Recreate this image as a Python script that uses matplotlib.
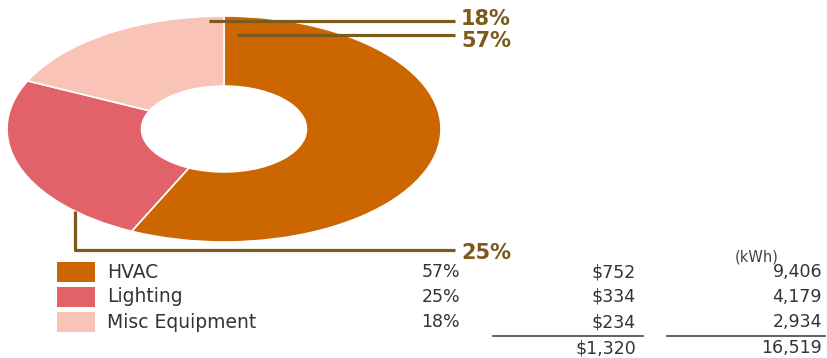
import matplotlib.pyplot as plt
from matplotlib.patches import Rectangle

categories = ["HVAC", "Lighting", "Misc Equipment"]
shares = [57, 25, 18]
costs = ["$752", "$334", "$234"]
usage = ["9,406", "4,179", "2,934"]
total_cost = "$1,320"
total_usage = "16,519"
colors = ["#cc6600", "#e2626a", "#f9c3b7"]
leader = "#7b5a1c"

W, H = 827, 358
fig = plt.figure(figsize=(W / 100, H / 100), dpi=100)
plt.rcParams["font.family"] = ["DejaVu Sans"]

# donut, stretched to fill its box
pie_ax = fig.add_axes([7 / W, 1 - 242 / H, 434 / W, 226 / H])
pie_ax.pie(shares, colors=colors, startangle=90, counterclock=False, radius=1,
           wedgeprops=dict(width=0.62, edgecolor="white", linewidth=1.2))
pie_ax.set_aspect("auto")
pie_ax.set_xlim(-1, 1)
pie_ax.set_ylim(-1, 1)
pie_ax.axis("off")

# overlay in pixel coordinates for leaders and table
ax = fig.add_axes([0, 0, 1, 1])
ax.set_xlim(0, W)
ax.set_ylim(H, 0)
ax.patch.set_alpha(0)
ax.axis("off")

lw = 2.3
ax.plot([209, 455], [21, 21], color=leader, lw=lw, solid_capstyle="butt")
ax.plot([237, 455], [35, 35], color=leader, lw=lw, solid_capstyle="butt")
ax.plot([75, 75, 455], [211, 250, 250], color=leader, lw=lw, solid_capstyle="butt")
lab = dict(color=leader, fontsize=15, fontweight="bold", va="center", ha="left")
ax.text(461, 19, f"{shares[2]}%", **lab)
ax.text(461, 41, f"{shares[0]}%", **lab)
ax.text(461, 253, f"{shares[1]}%", **lab)

txt = "#333333"
num = dict(color=txt, fontsize=12.5, va="center", ha="right")
ax.text(757, 257, "(kWh)", color="#444444", fontsize=10.5, ha="center", va="center")
rows = [272, 297, 322]
for i, y in enumerate(rows):
    ax.add_patch(Rectangle((57, y - 10), 38, 20, facecolor=colors[i], edgecolor="none"))
    ax.text(107, y, categories[i], color=txt, fontsize=13.5, va="center", ha="left")
    ax.text(460, y, f"{shares[i]}%", **num)
    ax.text(636, y, costs[i], **num)
    ax.text(822, y, usage[i], **num)

ax.plot([493, 643], [336, 336], color="#444444", lw=1.2)
ax.plot([667, 825], [336, 336], color="#444444", lw=1.2)
ax.text(636, 348, total_cost, **num)
ax.text(822, 348, total_usage, **num)

fig.savefig("out.png", dpi=100)
